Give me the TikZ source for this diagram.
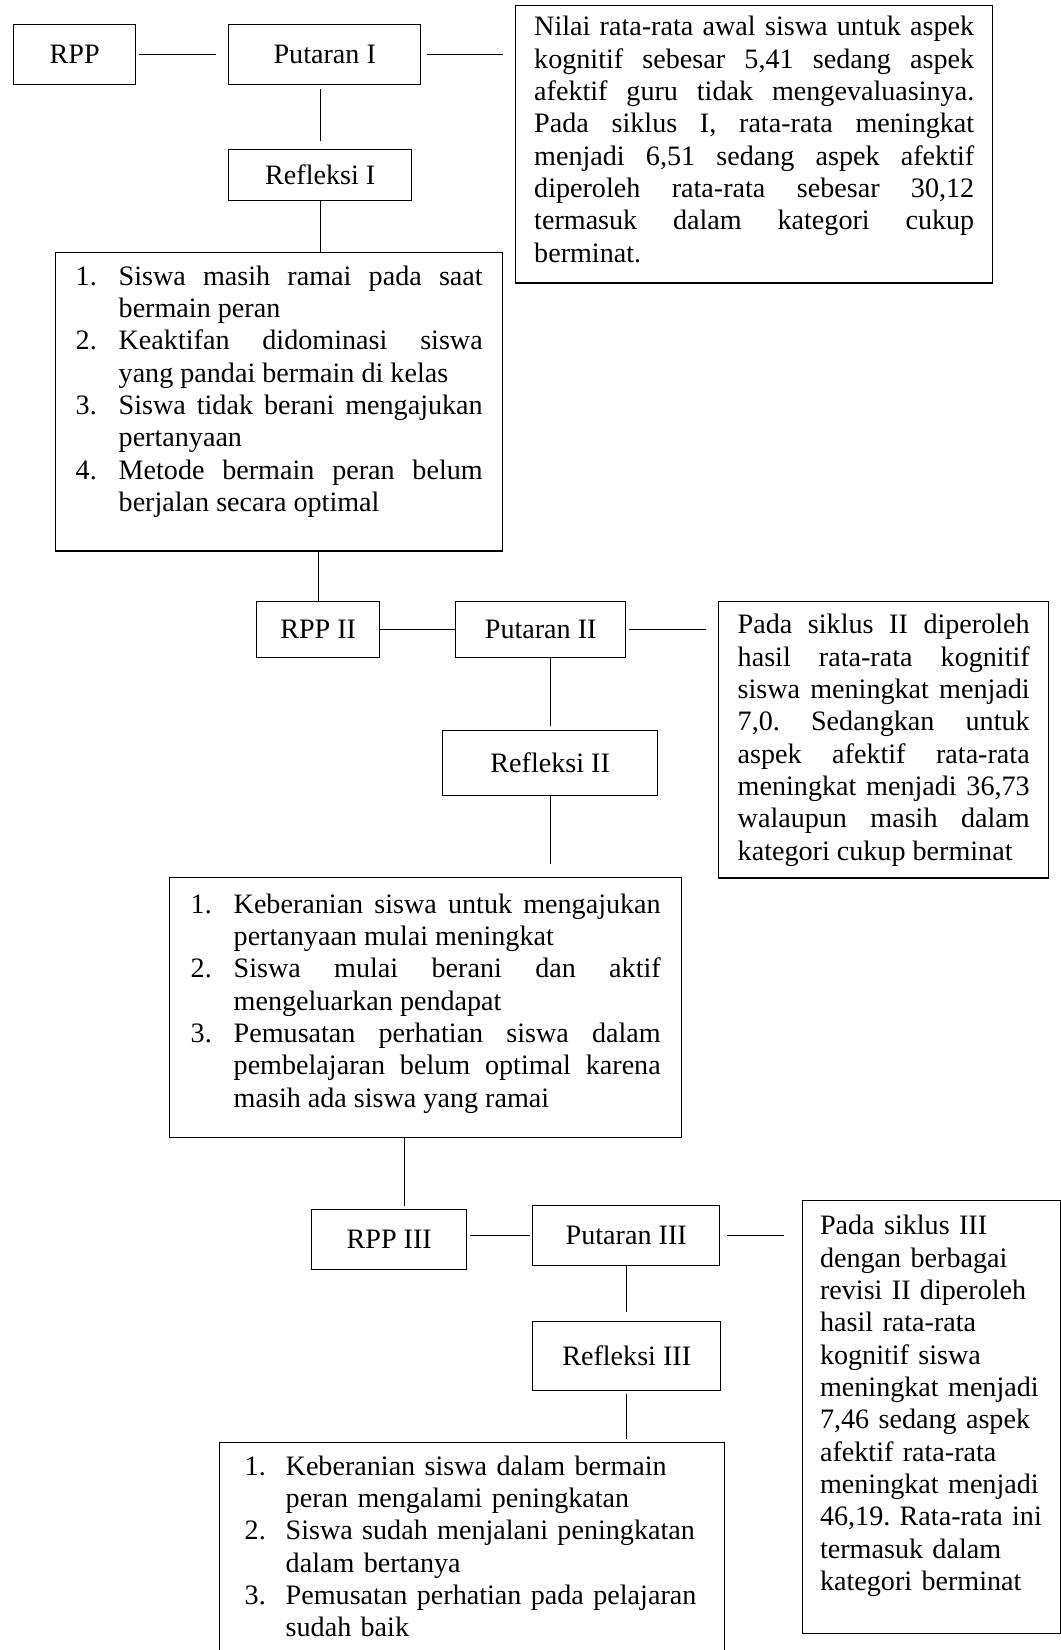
\documentclass[tikz,border=0pt]{standalone}
\usepackage{fontspec}
\setmainfont{Liberation Serif}
\usetikzlibrary{calc}
\setlength\parindent{0pt}
\frenchspacing
\hyphenpenalty=10000
\exhyphenpenalty=10000
\newlength\butirindent
\setlength\butirindent{18.35pt}
\newcommand{\butir}[2]{\par\noindent\hangindent=\butirindent\hangafter=1\makebox[\butirindent][l]{#1}#2}
\newcommand{\atas}[1]{\rule{0pt}{#1}}
\newcommand{\bawah}[1]{\rule[-#1]{0pt}{0pt}}
\tikzstyle{block} = [rectangle, draw, anchor=north west, inner sep=0pt,
    font=\fontsize{12}{13.8}\selectfont]
\tikzstyle{notebox} = [block, align=justify]
\tikzstyle{plainbox} = [block, align=left]

\begin{document}
\begin{tikzpicture}[x=0.015cm,y=-0.015cm,line width=0.6pt]
  \useasboundingbox (0,0) rectangle (1061,1650);

  % siklus I
  \node[block,minimum width=1.83cm,minimum height=0.9cm]   (rpp1) at (13,24)  {RPP};
  \node[block,minimum width=2.88cm,minimum height=0.9cm]   (put1) at (228,24) {Putaran I};
  \node[block,minimum width=2.745cm,minimum height=0.765cm] (ref1) at (228,149) {Refleksi I};
  \node[notebox,text width=6.6cm,inner xsep=0.2775cm] (hsl1) at (515,5)
    {\atas{12.8pt}Nilai rata-rata awal siswa untuk aspek\linebreak
     kognitif sebesar 5,41 sedang aspek\linebreak
     afektif guru tidak mengevaluasinya.\linebreak
     Pada siklus I, rata-rata meningkat\linebreak
     menjadi 6,51 sedang aspek afektif\linebreak
     diperoleh rata-rata sebesar 30,12\linebreak
     termasuk dalam kategori cukup\linebreak
     berminat.\bawah{9pt}};
  \node[notebox,text width=6.105cm,inner xsep=0.3cm] (lst1) at (55,252)
    {\butir{1.}{\atas{13.4pt}Siswa masih ramai pada saat\linebreak bermain peran}
     \butir{2.}{Keaktifan didominasi siswa\linebreak yang pandai bermain di kelas}
     \butir{3.}{Siswa tidak berani mengajukan\linebreak pertanyaan}
     \butir{4.}{Metode bermain peran belum\linebreak berjalan secara optimal\bawah{16.9pt}}\par};

  % siklus II
  \node[block,minimum width=1.845cm,minimum height=0.84cm] (rpp2) at (256,601) {RPP II};
  \node[block,minimum width=2.55cm,minimum height=0.84cm]  (put2) at (455,601) {Putaran II};
  \node[block,minimum width=3.225cm,minimum height=0.975cm] (ref2) at (442,730) {Refleksi II};
  \node[notebox,text width=4.38cm,inner xsep=0.285cm] (hsl2) at (718,601)
    {\atas{13.7pt}Pada siklus II diperoleh\linebreak
     hasil rata-rata kognitif\linebreak
     siswa meningkat menjadi\linebreak
     7,0. Sedangkan untuk\linebreak
     aspek afektif rata-rata\linebreak
     meningkat menjadi 36,73\linebreak
     walaupun masih dalam\linebreak
     kategori cukup berminat\bawah{7.7pt}};
  \node[notebox,text width=7.05cm,inner xsep=0.315cm] (lst2) at (169,877)
    {\butir{1.}{\atas{14.1pt}Keberanian siswa untuk mengajukan\linebreak pertanyaan mulai meningkat}
     \butir{2.}{Siswa mulai berani dan aktif\linebreak mengeluarkan pendapat}
     \butir{3.}{Pemusatan perhatian siswa dalam\linebreak pembelajaran belum optimal karena\linebreak
       masih ada siswa yang ramai\bawah{13pt}}\par};

  % siklus III
  \node[block,minimum width=2.325cm,minimum height=0.9cm] (rpp3) at (311,1209) {RPP III};
  \node[block,minimum width=2.805cm,minimum height=0.9cm] (put3) at (532,1205) {Putaran III};
  \node[block,minimum width=2.82cm,minimum height=1.035cm] (ref3) at (532,1321) {Refleksi III};
  \node[plainbox,text width=3.35cm,inner xsep=0.26cm] (hsl3) at (802,1200)
    {\atas{14.5pt}Pada siklus III\newline
     dengan berbagai\newline
     revisi II diperoleh\newline
     hasil rata-rata\newline
     kognitif siswa\newline
     meningkat menjadi\newline
     7,46 sedang aspek\newline
     afektif rata-rata\newline
     meningkat menjadi\newline
     46,19. Rata-rata ini\newline
     termasuk dalam\newline
     kategori berminat\bawah{18.4pt}};
  \setlength\butirindent{17.5pt}
  \node[plainbox,text width=6.825cm,inner xsep=0.375cm] (lst3) at (219,1442)
    {\butir{1.}{\atas{13.2pt}Keberanian siswa dalam bermain\newline peran mengalami peningkatan}
     \butir{2.}{Siswa sudah menjalani peningkatan\newline dalam bertanya}
     \butir{3.}{Pemusatan perhatian pada pelajaran\newline sudah baik\bawah{25pt}}\par};

  \path (rpp1) edge[shorten <=1.3pt,shorten >=5pt] (put1)
        (put1.east) edge[shorten <=2.5pt,shorten >=5pt] (put1.east -| hsl1.west)
        (ref1.north |- put1.south) edge[shorten <=1.7pt,shorten >=3.4pt] (ref1.north)
        (ref1.south) edge (ref1.south |- lst1.north)
        (rpp2.north |- lst1.south) edge (rpp2.north)
        (rpp2) edge (put2)
        (put2.east) edge[shorten <=1.3pt,shorten >=5pt] (put2.east -| hsl2.west)
        (ref2.north |- put2.south) edge[shorten >=1.7pt] (ref2.north)
        (ref2.south) edge[shorten >=5.5pt] (ref2.south |- lst2.north)
        ([xshift=0.23cm]rpp3.north |- lst2.south) edge[shorten >=1.3pt] ([xshift=0.23cm]rpp3.north)
        (put3.west -| rpp3.east) edge[shorten <=1pt,shorten >=1pt] (put3.west)
        (put3.east) edge[shorten <=3pt,shorten >=7.5pt] (put3.east -| hsl3.west)
        (put3.south) edge[shorten >=3.8pt] (put3.south |- ref3.north)
        (ref3.south) edge[shorten <=1.3pt,shorten >=1.3pt] (ref3.south |- lst3.north);
\end{tikzpicture}
\end{document}
